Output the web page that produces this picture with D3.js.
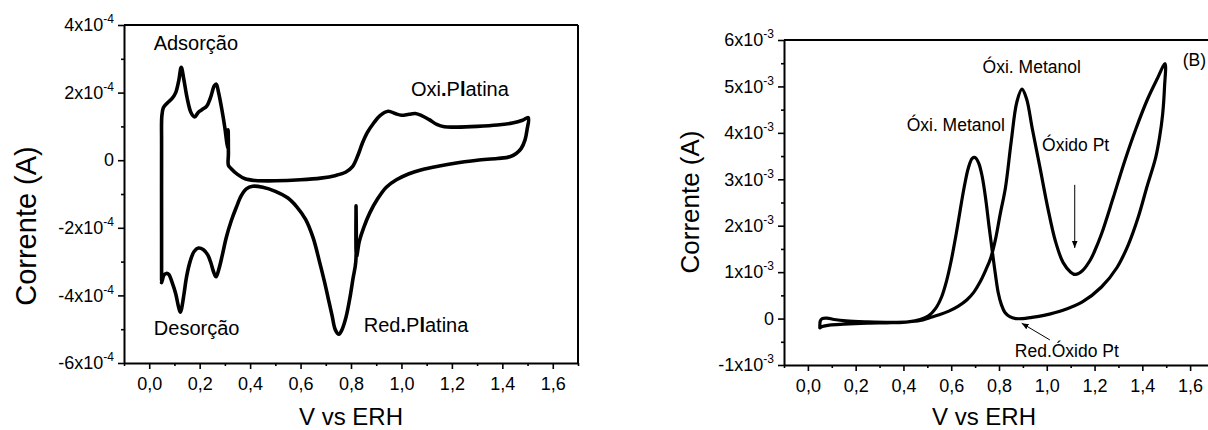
<!DOCTYPE html>
<html><head><meta charset="utf-8">
<script src="https://cdn.jsdelivr.net/npm/d3@7"></script>
<style>
html,body{margin:0;padding:0;background:#fff;}
svg{display:block;font-family:"Liberation Sans",Arial,sans-serif;}
</style></head>
<body>
<svg id="c" width="1208" height="430"></svg>
<script>
// ---------- DATA ----------
// Panel A: Pt voltammogram (V vs ERH, current in units of 1e-4 A)
const cvA_V = [0.049,0.049,0.049,0.05,0.056,0.07,0.09,0.105,0.117,0.127,0.137,0.15,0.165,0.18,0.195,0.21,0.228,0.243,0.258,0.266,0.275,0.288,0.30,0.308,0.312,0.313,0.314,0.314,0.325,0.35,0.38,0.42,0.5,0.6,0.68,0.74,0.78,0.805,0.825,0.845,0.865,0.89,0.915,0.948,0.975,1.0,1.03,1.055,1.08,1.11,1.14,1.17,1.22,1.3,1.38,1.44,1.48,1.503,
  1.498,1.49,1.475,1.455,1.43,1.38,1.3,1.23,1.15,1.08,1.03,0.98,0.94,0.905,0.875,0.85,0.833,0.822,0.82,0.819,0.808,0.795,0.78,0.765,0.752,0.738,0.725,0.71,0.695,0.675,0.65,0.62,0.585,0.55,0.5,0.45,0.41,0.385,0.365,0.345,0.325,0.305,0.29,0.277,0.265,0.255,0.245,0.232,0.215,0.195,0.178,0.162,0.148,0.138,0.128,0.123,0.115,0.105,0.09,0.078,0.068,0.058,0.052,0.049];
const cvA_I = [-3.55,-2.0,0.5,1.3,1.55,1.68,1.82,2.0,2.35,2.75,2.4,1.85,1.42,1.28,1.42,1.5,1.6,1.85,2.2,2.25,2.0,1.5,0.95,0.5,0.35,0.9,0.2,-0.15,-0.25,-0.42,-0.55,-0.6,-0.61,-0.58,-0.53,-0.45,-0.35,-0.2,0.1,0.5,0.82,1.1,1.32,1.45,1.38,1.33,1.36,1.38,1.32,1.2,1.06,0.99,0.98,1.0,1.04,1.1,1.18,1.26,
  0.9,0.6,0.35,0.2,0.1,0.05,0.0,-0.07,-0.17,-0.28,-0.4,-0.58,-0.8,-1.15,-1.55,-2.0,-2.4,-2.85,-1.35,-3.0,-3.5,-4.1,-4.65,-5.0,-5.15,-5.02,-4.6,-4.1,-3.6,-3.0,-2.3,-1.75,-1.38,-1.12,-0.92,-0.8,-0.77,-0.85,-1.05,-1.4,-1.8,-2.3,-2.8,-3.2,-3.45,-3.3,-3.05,-2.8,-2.65,-2.6,-2.7,-3.0,-3.45,-3.95,-4.4,-4.5,-4.3,-3.95,-3.6,-3.38,-3.35,-3.4,-3.55,-3.62];
const unitA = 1e-4;

// Panel B: methanol oxidation (current in units of 1e-3 A)
const cvB_V = [0.05,0.052,0.06,0.08,0.11,0.16,0.25,0.35,0.42,0.47,0.51,0.55,0.59,0.63,0.665,0.695,0.72,0.745,0.765,0.785,0.805,0.827,0.851,0.875,0.896,0.915,0.939,0.972,1.004,1.036,1.068,1.1,1.12,1.149,1.181,1.2,1.229,1.278,1.326,1.374,1.423,1.463,1.495,
  1.493,1.485,1.472,1.455,1.42,1.382,1.342,1.294,1.229,1.149,1.068,0.988,0.93,0.9,0.87,0.845,0.825,0.81,0.797,0.785,0.772,0.758,0.745,0.73,0.715,0.7,0.688,0.672,0.655,0.638,0.62,0.6,0.58,0.56,0.535,0.505,0.47,0.42,0.35,0.25,0.15,0.09,0.06,0.05];
const cvB_I = [-0.17,-0.05,0.0,0.01,-0.02,-0.05,-0.07,-0.08,-0.07,-0.04,0.02,0.08,0.16,0.27,0.4,0.57,0.78,1.05,1.3,1.7,2.25,2.82,3.81,4.67,4.94,4.74,4.1,3.24,2.39,1.67,1.21,1.0,0.95,1.03,1.25,1.45,1.82,2.6,3.39,4.1,4.74,5.17,5.49,
  5.0,4.4,3.9,3.45,2.85,2.17,1.6,1.1,0.68,0.36,0.18,0.07,0.02,0.0,0.0,0.04,0.13,0.3,0.55,0.95,1.45,2.0,2.55,3.05,3.35,3.47,3.45,3.25,2.85,2.35,1.8,1.25,0.8,0.47,0.22,0.06,-0.02,-0.07,-0.09,-0.1,-0.12,-0.14,-0.17,-0.2];
const unitB = 1e-3;

const xTicks = [0,0.2,0.4,0.6,0.8,1.0,1.2,1.4,1.6];
const xMinor = [-0.1,0.1,0.3,0.5,0.7,0.9,1.1,1.3,1.5,1.7];
const yTicksA = [-6e-4,-4e-4,-2e-4,0,2e-4,4e-4];
const yMinorA = [-5e-4,-3e-4,-1e-4,1e-4,3e-4];
const yTicksB = [-1e-3,0,1e-3,2e-3,3e-3,4e-3,5e-3,6e-3];
const yMinorB = [-0.5e-3,0.5e-3,1.5e-3,2.5e-3,3.5e-3,4.5e-3,5.5e-3];

const annA = [
  {t:["Adsorção"], v:0.185, i:3.26e-4},
  {t:["Oxi","."," P","l","atina"], v:1.232, i:1.9e-4},
  {t:["Desorção"], v:0.188, i:-5.17e-4},
  {t:["Red","."," P","l","atina"], v:1.058, i:-5.08e-4}
];
const annB = [
  {t:"Óxi. Metanol", v:0.937, i:5.28e-3, a:"middle"},
  {t:"Óxi. Metanol", v:0.619, i:4.03e-3, a:"middle"},
  {t:"Óxido Pt", v:1.121, i:3.61e-3, a:"middle"},
  {t:"(B)", v:1.569, i:5.44e-3, a:"start"},
  {t:"Red.Óxido Pt", v:1.084, i:-0.83e-3, a:"middle"}
];
const arrowsB = [
  {v1:1.117, i1:2.88e-3, v2:1.117, i2:1.52e-3},
  {v1:1.013, i1:-0.46e-3, v2:0.895, i2:-0.1e-3}
];

// ---------- DRAW ----------
const svg = d3.select("#c");
svg.append("defs").append("marker")
  .attr("id","ah").attr("viewBox","0 0 10 10").attr("refX",10).attr("refY",5)
  .attr("markerWidth",7).attr("markerHeight",7).attr("orient","auto")
  .append("path").attr("d","M0,1 L10,5 L0,9 Z").attr("fill","#000");

function expLabel(sel, v, expo){
  sel.text(null);
  if (Math.abs(v) < 1e-12){ sel.append("tspan").text("0"); return; }
  const m = Math.round(v / Math.pow(10, expo));
  sel.append("tspan").text(m + "x10");
  sel.append("tspan").attr("dy",-8).attr("font-size",12).text(String(expo));
}

function panel(cfg){
  const g = svg.append("g");
  const x = d3.scaleLinear().domain([-0.1,1.7]).range([cfg.left, cfg.right]);
  const y = d3.scaleLinear().domain(cfg.yDom).range([cfg.bottom, cfg.top]);

  g.append("line").attr("x1",cfg.left).attr("x2",cfg.right).attr("y1",cfg.top).attr("y2",cfg.top)
    .attr("stroke","#000").attr("stroke-width",2);
  g.append("line").attr("x1",cfg.right).attr("x2",cfg.right).attr("y1",cfg.top).attr("y2",cfg.bottom)
    .attr("stroke","#000").attr("stroke-width",2);

  const gxm = g.append("g").attr("transform",`translate(0,${cfg.bottom})`)
    .call(d3.axisBottom(x).tickValues(xMinor).tickSize(3).tickFormat(""));
  gxm.select(".domain").remove();
  const gym = g.append("g").attr("transform",`translate(${cfg.left},0)`)
    .call(d3.axisLeft(y).tickValues(cfg.yMinor).tickSize(3).tickFormat(""));
  gym.select(".domain").remove();

  const gx = g.append("g").attr("transform",`translate(0,${cfg.bottom})`)
    .call(d3.axisBottom(x).tickValues(xTicks).tickSize(6).tickSizeOuter(0).tickPadding(8)
      .tickFormat(d => d3.format(".1f")(d).replace(".",",")));
  gx.selectAll("text").attr("font-size",18).attr("font-family","Liberation Sans, Arial, sans-serif");
  const gy = g.append("g").attr("transform",`translate(${cfg.left},0)`)
    .call(d3.axisLeft(y).tickValues(cfg.yTicks).tickSize(6).tickSizeOuter(0).tickPadding(4));
  gy.selectAll("text").attr("font-size",18).attr("font-family","Liberation Sans, Arial, sans-serif")
    .each(function(d){ expLabel(d3.select(this), d, cfg.expo); });
  [gx,gy,gxm,gym].forEach(a => {
    a.select(".domain").attr("stroke-width",2);
    a.selectAll(".tick line").attr("stroke-width",1.6);
  });

  g.append("text").attr("x",(cfg.left+Math.min(cfg.right,1208))/2 + cfg.xtOff).attr("y",425)
    .attr("text-anchor","middle").attr("font-size",24).text("V vs ERH");
  g.append("text").attr("transform",`translate(${cfg.ytX},${cfg.ytY}) rotate(-90)`)
    .attr("text-anchor","middle").attr("font-size",cfg.ytF).text("Corrente (A)");

  const pts = cfg.V.map((v,k) => [v, cfg.I[k]*cfg.unit]);
  g.append("path").datum(pts)
    .attr("d", d3.line().x(d=>x(d[0])).y(d=>y(d[1])).curve(d3.curveCatmullRom.alpha(0.5)))
    .attr("fill","none").attr("stroke","#000").attr("stroke-width",cfg.lw)
    .attr("stroke-linejoin","round").attr("stroke-linecap","round");
  return {g,x,y};
}

const A = panel({left:124,right:578,top:25,bottom:363,yDom:[-6e-4,4e-4],
  yTicks:yTicksA,yMinor:yMinorA,expo:-4,V:cvA_V,I:cvA_I,unit:unitA,lw:3.6,
  ytX:36,ytY:226,ytF:29,xtOff:0});
const B = panel({left:784,right:1214,top:40,bottom:365,yDom:[-1e-3,6e-3],
  yTicks:yTicksB,yMinor:yMinorB,expo:-3,V:cvB_V,I:cvB_I,unit:unitB,lw:3.2,
  ytX:699,ytY:202,ytF:26,xtOff:-12});

annA.forEach(a => {
  const t = A.g.append("text").attr("x",A.x(a.v)).attr("y",A.y(a.i))
    .attr("text-anchor","middle").attr("font-size",20);
  a.t.forEach(s => {
    const bold = (s === "." || s === "l");
    t.append("tspan").attr("font-weight", bold ? "bold" : "normal").text(s.replace(" ",""));
  });
});
annB.forEach(a => {
  B.g.append("text").attr("x",B.x(a.v)).attr("y",B.y(a.i))
    .attr("text-anchor",a.a).attr("font-size",17.5).text(a.t);
});
arrowsB.forEach(a => {
  B.g.append("line").attr("x1",B.x(a.v1)).attr("y1",B.y(a.i1))
    .attr("x2",B.x(a.v2)).attr("y2",B.y(a.i2))
    .attr("stroke","#000").attr("stroke-width",1).attr("marker-end","url(#ah)");
});
</script>
</body></html>
